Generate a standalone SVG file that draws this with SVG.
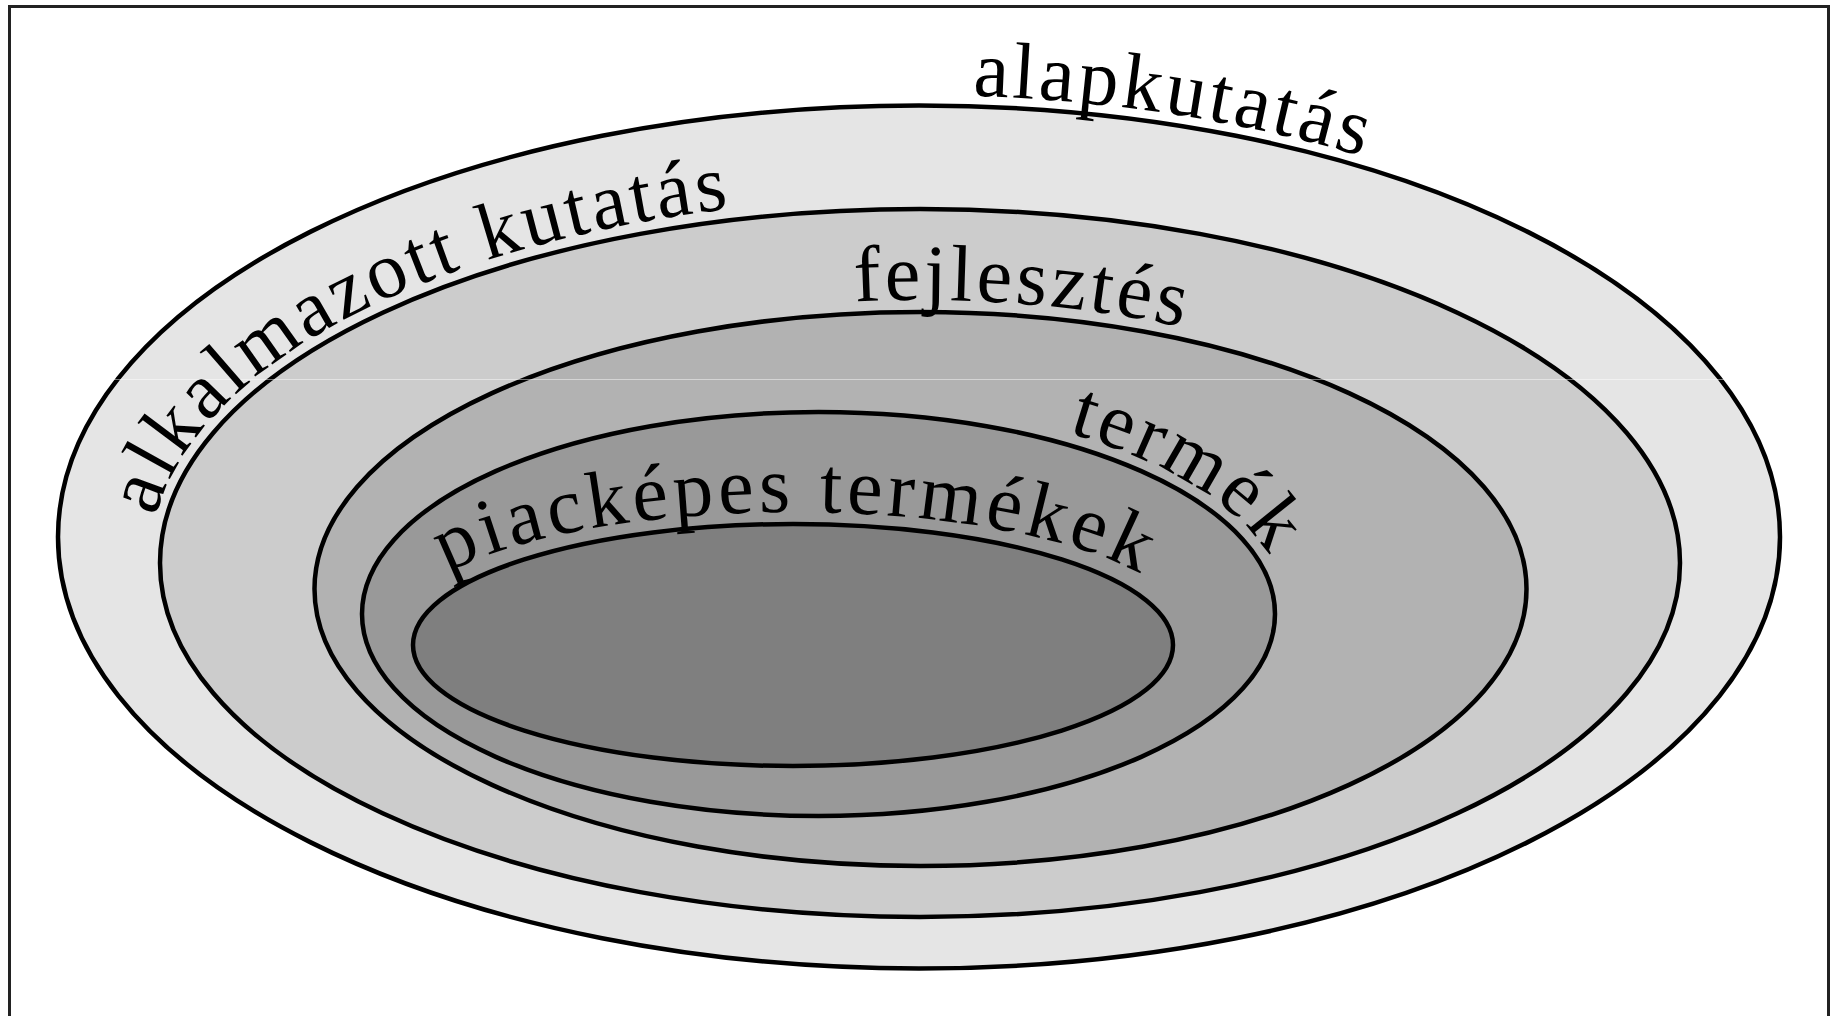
<svg xmlns="http://www.w3.org/2000/svg" xmlns:xlink="http://www.w3.org/1999/xlink" width="1840" height="1016" viewBox="0 0 1840 1016">
  <style>
    .ring { stroke: #000; stroke-width: 4.5; }
    .lbl { font-family: "Liberation Serif", "Times New Roman", serif; font-size: 80px; letter-spacing: 3.5px; fill: #000; }
    .wide { letter-spacing: 4.5px; }
  </style>
  <defs>
    <path id="p1" d="M973,95.9 A871,441.5 0 0 1 1790,536.5"/>
    <path id="p2" d="M155.8,517.1 A770,364.5 0 0 1 1690,561.5"/>
    <path id="p3" d="M855,301.6 A618,289 0 0 1 1538.5,589"/>
    <path id="p4" d="M1068,432.9 A468.5,214 0 0 1 1287,614"/>
    <path id="p5" d="M447,573.1 A395,118 0 0 1 1188,630"/>
  </defs>
  <rect width="1840" height="1016" fill="#fff"/>
  <path d="M9.5,1016 V6.5 H1828.5 V1016" fill="none" stroke="#222" stroke-width="3"/>

  <g id="alapkutatas">
    <ellipse class="ring" cx="919" cy="537" rx="861" ry="431.5" fill="#e5e5e5"/>
  </g>
  <g id="alkalmazott-kutatas">
    <ellipse class="ring" cx="920" cy="563" rx="760" ry="354" fill="#cccccc"/>
  </g>
  <g id="fejlesztes">
    <ellipse class="ring" cx="920.5" cy="589" rx="606" ry="277" fill="#b2b2b2"/>
  </g>
  <g id="termek">
    <ellipse class="ring" cx="818.5" cy="614" rx="456.5" ry="202" fill="#999999"/>
  </g>
  <g id="piackepes-termekek">
    <ellipse class="ring" cx="793" cy="645" rx="380" ry="121" fill="#7f7f7f"/>
  </g>

  <line x1="11" y1="379.5" x2="1827" y2="379.5" stroke="#fff" stroke-opacity="0.45" stroke-width="1"/>

  <g id="labels">
    <text class="lbl"><textPath xlink:href="#p1" href="#p1">alapkutatás</textPath></text>
    <text class="lbl"><textPath xlink:href="#p2" href="#p2">alkalmazott kutatás</textPath></text>
    <text class="lbl"><textPath xlink:href="#p3" href="#p3">fejlesztés</textPath></text>
    <text class="lbl"><textPath xlink:href="#p4" href="#p4">termék</textPath></text>
    <text class="lbl wide"><textPath xlink:href="#p5" href="#p5">piacképes termékek</textPath></text>
  </g>
</svg>
